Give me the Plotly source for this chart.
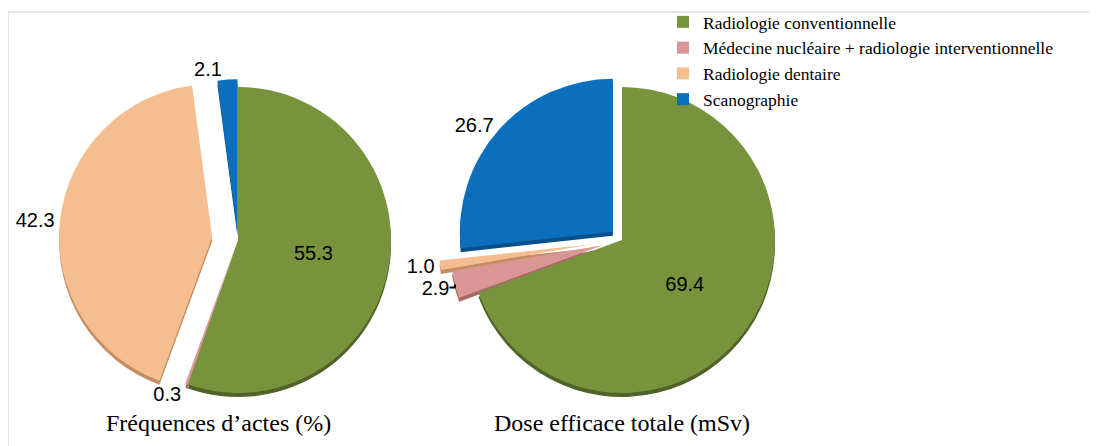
import plotly.graph_objects as go

labels = ["Radiologie conventionnelle",
          "Médecine nucléaire + radiologie interventionnelle",
          "Radiologie dentaire",
          "Scanographie"]
colors = ["#77933C", "#D99694", "#F5BE91", "#0B6FBD"]
rim_colors = ["#4F6228", "#A86A68", "#C48E62", "#09508A"]

freq_values = [55.3, 0.3, 42.3, 2.1]
dose_values = [69.4, 2.9, 1.0, 26.7]

freq_pull = [0, 0.0, 0.17, 0.05]
dose_pull = [0, 0.13, 0.2, 0.08]

freq_textpos = ["inside", "outside", "outside", "outside"]
dose_textpos = ["inside", "outside", "outside", "outside"]

freq_title = "Fréquences d’actes (%)"
dose_title = "Dose efficace totale (mSv)"

# page has an 8px body margin, so the figure is 8px smaller than the window
W, H = 1089, 438
ML, MR, MT, MB = 0, 4, 4, 0
PW, PH = W - ML - MR, H - MT - MB
OX, OY = 8 + ML, 8 + MT   # page pixel of paper (0, 1)


def px(x):
    return (x - OX) / PW


def py(y):
    return 1 - (y - OY) / PH


def dom(cx, cy, half, dy=0):
    return dict(x=[px(cx - half), px(cx + half)],
                y=[py(cy + half + dy), py(cy - half + dy)])


left_box = (238, 240, 153 * 1.17)
right_box = (622, 240, 153 * 1.20)

fig = go.Figure()

# darker rim underneath to mimic the 3D edge
for vals, pull, box in [(freq_values, freq_pull, left_box),
                        (dose_values, dose_pull, right_box)]:
    fig.add_trace(go.Pie(
        labels=labels, values=vals, pull=pull, sort=False,
        direction="clockwise", rotation=0,
        marker=dict(colors=rim_colors),
        textinfo="none", hoverinfo="skip", showlegend=False,
        domain=dom(*box, dy=4),
    ))

for vals, pull, pos, box in [(freq_values, freq_pull, freq_textpos, left_box),
                             (dose_values, dose_pull, dose_textpos, right_box)]:
    fig.add_trace(go.Pie(
        labels=labels, values=vals, pull=pull, sort=False,
        direction="clockwise", rotation=0,
        marker=dict(colors=colors),
        texttemplate="%{value:.1f}", textposition=pos,
        textfont=dict(family="Liberation Sans, Arial", size=20, color="black"),
        insidetextfont=dict(color="black"),
        outsidetextfont=dict(color="black"),
        domain=dom(*box),
    ))

for title, cx in [(freq_title, 218), (dose_title, 622)]:
    fig.add_annotation(text=title, x=px(cx), y=py(423), xanchor="center", yanchor="middle",
                       xref="paper", yref="paper", showarrow=False,
                       font=dict(family="Liberation Serif", size=24, color="black"))

fig.add_shape(type="rect", xref="paper", yref="paper", x0=0, x1=1, y0=-0.05, y1=1,
              line=dict(color="#DDDDDD", width=1.5), layer="below")

fig.update_layout(
    width=W, height=H,
    margin=dict(l=ML, r=MR, t=MT, b=MB, autoexpand=False),
    paper_bgcolor="white", plot_bgcolor="white",
    legend=dict(x=px(663), y=py(4), xanchor="left", yanchor="top",
                font=dict(family="Liberation Serif", size=17.5, color="black"),
                bgcolor="rgba(0,0,0,0)", tracegroupgap=0),
)

fig.write_html("out.html")
